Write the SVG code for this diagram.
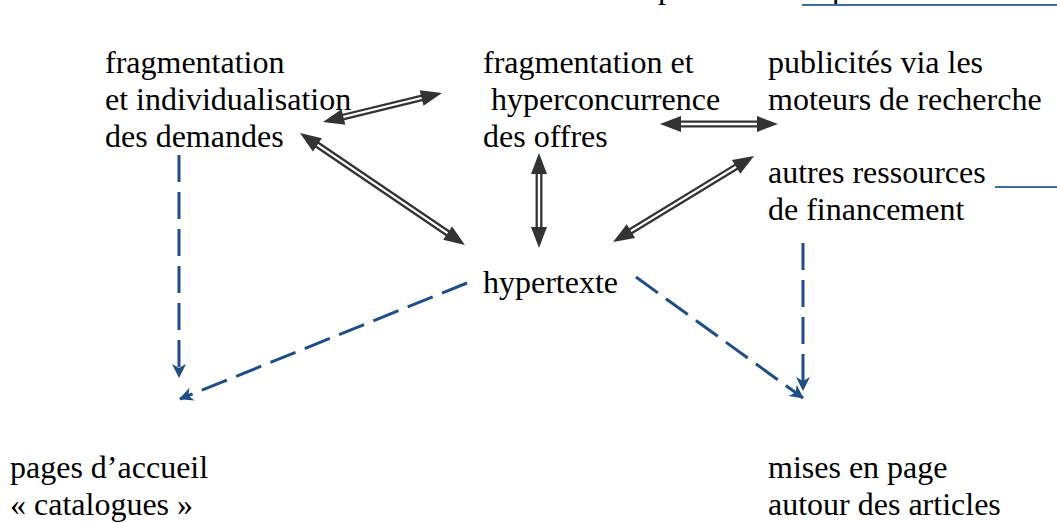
<svg xmlns="http://www.w3.org/2000/svg" width="1057" height="523" viewBox="0 0 1057 523">
<style>
.t{font-family:"Liberation Serif","Times New Roman",serif;font-size:32px;fill:#000}
.sh{stroke:#333;stroke-width:2.3;fill:none}
.hd{fill:#333}
.dash{stroke:#1f4e85;stroke-width:3;fill:none;stroke-dasharray:27 10;marker-end:url(#ah)}
.bl{stroke:#3f6aa3;stroke-width:2.2}
</style>
<defs>
<marker id="ah" markerUnits="userSpaceOnUse" markerWidth="16" markerHeight="16" refX="14" refY="8" orient="auto" viewBox="0 0 16 16">
<path d="M1,1 L15,8 L1,15 L5,8 Z" fill="#1f4e85"/>
</marker>
</defs>
<rect width="1057" height="523" fill="#fff"/>
<g id="top-fragment">
<text class="t" x="658" y="-2">p</text>
<text class="t" x="832" y="-2">p</text>
<line class="bl" x1="802" y1="5" x2="1057" y2="5"/>
</g>
<g id="node-demandes">
<text class="t" x="105" y="73">fragmentation</text>
<text class="t" x="105" y="110">et individualisation</text>
<text class="t" x="105" y="147">des demandes</text>
</g>
<g id="node-offres">
<text class="t" x="483" y="73">fragmentation et</text>
<text class="t" x="483" y="110" xml:space="preserve"> hyperconcurrence</text>
<text class="t" x="483" y="147">des offres</text>
</g>
<g id="node-publicites">
<text class="t" x="768" y="73">publicités via les</text>
<text class="t" x="768" y="110">moteurs de recherche</text>
</g>
<g id="node-ressources">
<text class="t" x="768" y="183">autres ressources</text>
<text class="t" x="768" y="220">de financement</text>
<line class="bl" x1="995" y1="187" x2="1057" y2="187"/>
</g>
<g id="node-hypertexte">
<text class="t" x="483" y="293">hypertexte</text>
</g>
<g id="node-accueil">
<text class="t" x="10" y="478">pages d’accueil</text>
<text class="t" x="10" y="515">« catalogues »</text>
</g>
<g id="node-miseenpage">
<text class="t" x="768" y="478">mises en page</text>
<text class="t" x="768" y="515">autour des articles</text>
</g>
<g id="connectors">
<g transform="translate(323,122) rotate(-13.7)">
<line class="sh" x1="18" y1="-2.3" x2="104.5" y2="-2.3"/><line class="sh" x1="18" y1="2.3" x2="104.5" y2="2.3"/>
<polygon class="hd" points="0,0 21,-8 21,8"/><polygon class="hd" points="122.5,0 101.5,-8 101.5,8"/>
</g>
<g transform="translate(300,133) rotate(34.17)">
<line class="sh" x1="18" y1="-2.3" x2="181.4" y2="-2.3"/><line class="sh" x1="18" y1="2.3" x2="181.4" y2="2.3"/>
<polygon class="hd" points="0,0 21,-8 21,8"/><polygon class="hd" points="199.4,0 178.4,-8 178.4,8"/>
</g>
<g transform="translate(539,153) rotate(90)">
<line class="sh" x1="18" y1="-2.3" x2="77" y2="-2.3"/><line class="sh" x1="18" y1="2.3" x2="77" y2="2.3"/>
<polygon class="hd" points="0,0 21,-8 21,8"/><polygon class="hd" points="95,0 74,-8 74,8"/>
</g>
<g transform="translate(660,124)">
<line class="sh" x1="18" y1="-2.3" x2="100" y2="-2.3"/><line class="sh" x1="18" y1="2.3" x2="100" y2="2.3"/>
<polygon class="hd" points="0,0 21,-8 21,8"/><polygon class="hd" points="118,0 97,-8 97,8"/>
</g>
<g transform="translate(613,242) rotate(-31.38)">
<line class="sh" x1="18" y1="-2.3" x2="147.2" y2="-2.3"/><line class="sh" x1="18" y1="2.3" x2="147.2" y2="2.3"/>
<polygon class="hd" points="0,0 21,-8 21,8"/><polygon class="hd" points="165.2,0 144.2,-8 144.2,8"/>
</g>
<line class="dash" x1="179" y1="155" x2="179" y2="377"/>
<line class="dash" x1="467" y1="283" x2="180" y2="399"/>
<line class="dash" x1="636" y1="277" x2="803" y2="398"/>
<line class="dash" x1="803" y1="243" x2="803" y2="390"/>
</g>
</svg>
